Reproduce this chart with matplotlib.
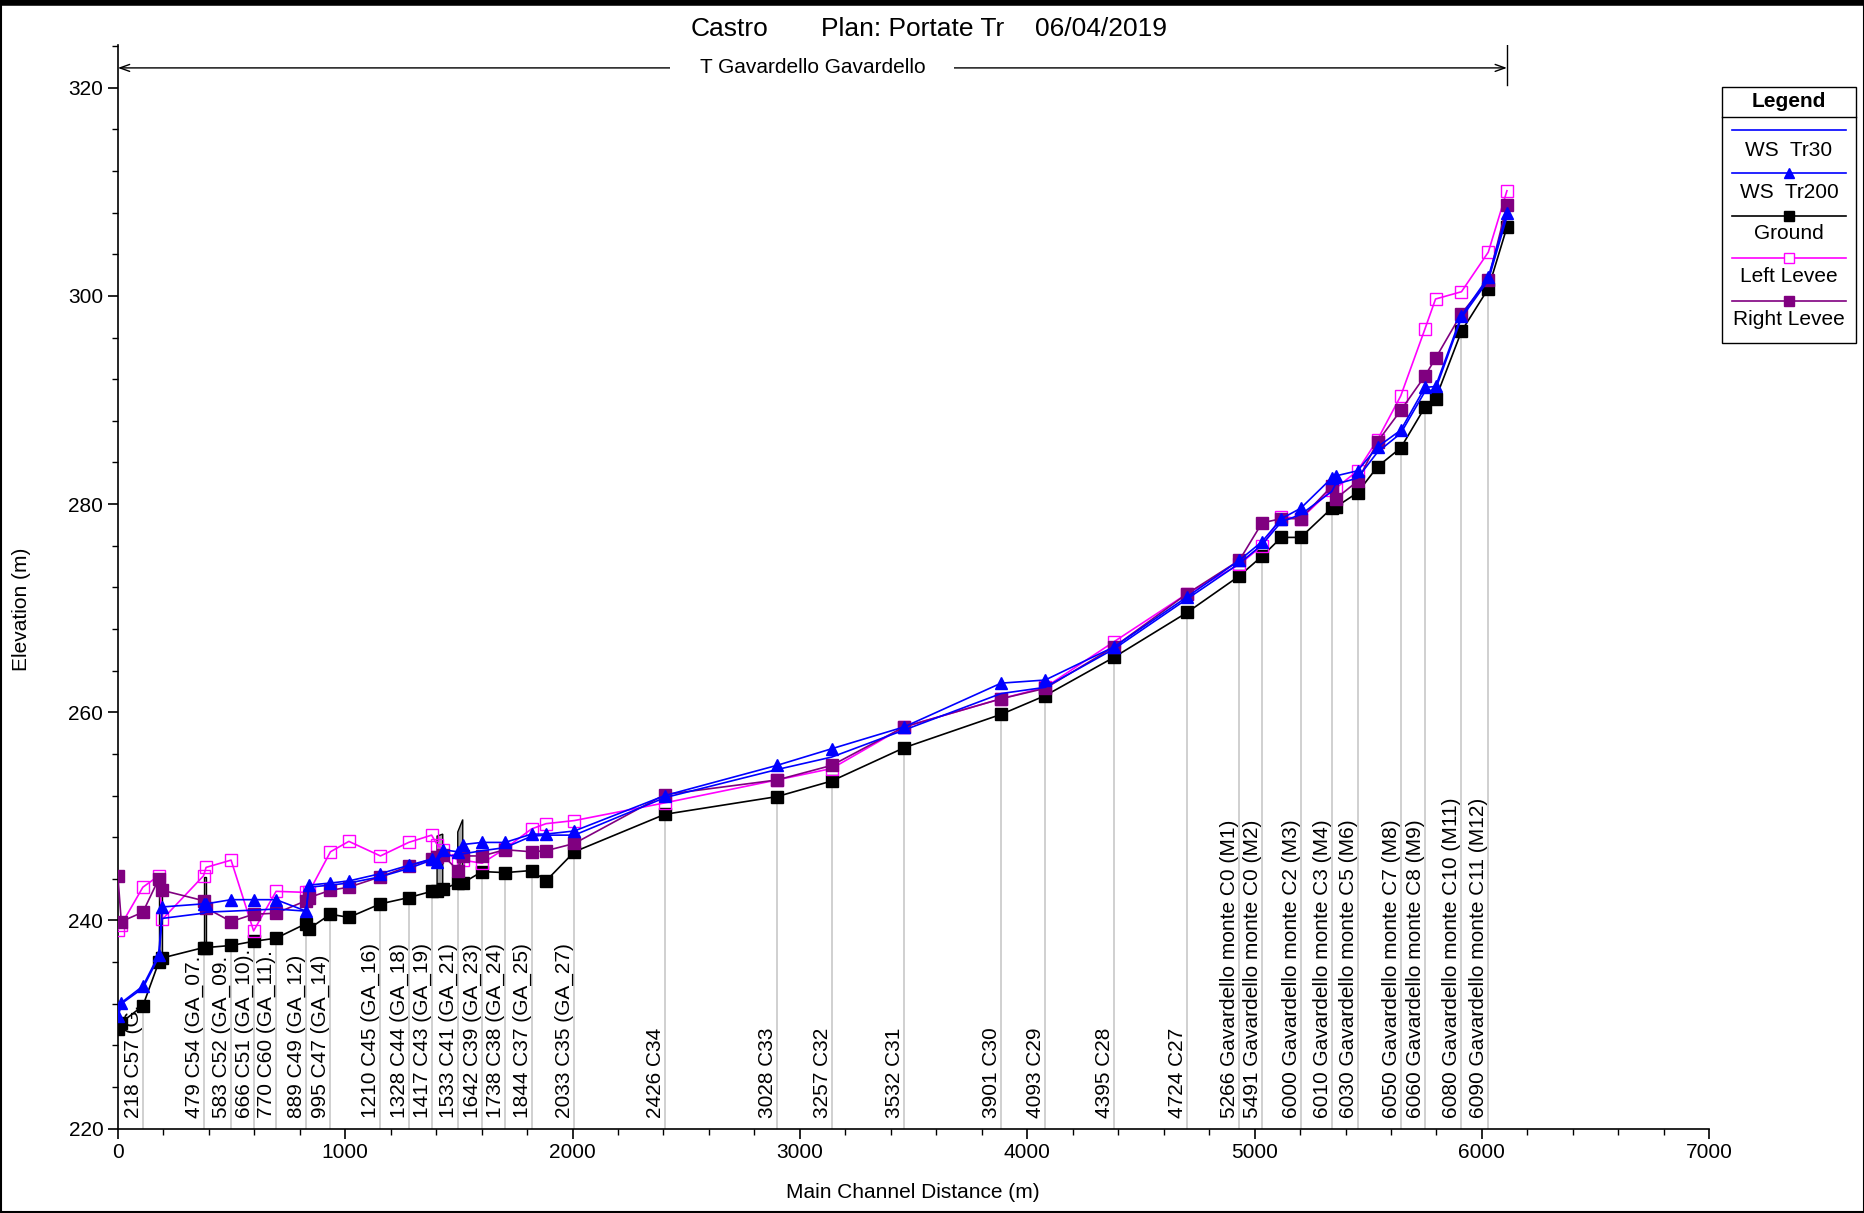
import numpy as np
import matplotlib
matplotlib.use('Agg')
import matplotlib.pyplot as plt
from matplotlib.lines import Line2D
from matplotlib.patches import Rectangle
from matplotlib.ticker import MultipleLocator

plt.rcParams['font.family'] = ['Liberation Sans', 'DejaVu Sans']

# main channel distance (m) of each cross section
dist = [0, 15, 110, 180, 195, 377, 388, 498, 597, 696,
        828, 840, 935, 1016, 1155, 1279, 1380, 1404, 1429, 1495,
        1517, 1602, 1703, 1820, 1883, 2008, 2406, 2899, 3140, 3459,
        3885, 4079, 4383, 4704, 4933, 5033, 5118, 5203, 5339, 5356,
        5453, 5541, 5643, 5749, 5796, 5910, 6028, 6110]

ground = [229.6, 230.2, 231.8, 236.0, 236.4, 237.4, 237.4, 237.6, 238.0, 238.3,
          239.7, 239.2, 240.6, 240.3, 241.6, 242.2, 242.8, 242.8, 243.0, 243.6,
          243.6, 244.7, 244.6, 244.8, 243.8, 246.6, 250.2, 251.9, 253.4, 256.6,
          259.8, 261.6, 265.3, 269.6, 273.1, 275.0, 276.8, 276.8, 279.6, 279.7,
          281.1, 283.6, 285.4, 289.3, 290.1, 296.6, 300.7, 306.6]

left_levee = [239.1, 239.6, 243.2, 244.3, 240.1, 244.3, 245.1, 245.8, 239.0, 242.8,
              242.7, 242.7, 246.6, 247.6, 246.2, 247.5, 248.2, 247.3, 246.8, 245.8,
              245.8, 245.5, 246.9, 248.8, 249.3, 249.6, 251.3, 253.5, 254.6, 258.6,
              261.3, 262.4, 266.8, 271.4, 274.2, 276.0, 278.8, 278.6, 281.4, 281.5,
              283.2, 286.2, 290.4, 296.8, 299.7, 300.4, 304.2, 310.1]

right_levee = [244.3, 239.9, 240.8, 244.0, 242.9, 241.9, 241.2, 239.9, 240.6, 240.7,
               241.9, 242.2, 242.9, 243.2, 244.2, 245.2, 245.9, 246.1, 246.3, 244.8,
               246.2, 246.2, 246.8, 246.6, 246.7, 247.4, 252.1, 253.5, 254.9, 258.6,
               261.3, 262.3, 266.3, 271.4, 274.6, 278.2, 278.6, 278.6, 281.7, 280.5,
               282.2, 286.0, 289.0, 292.3, 294.0, 298.3, 301.5, 308.7]

ws_tr200 = [230.8, 232.1, 233.7, 236.7, 241.3, 241.6, 241.6, 242.0, 242.0, 242.0,
            240.9, 243.4, 243.6, 243.8, 244.5, 245.3, 245.9, 245.6, 246.8, 246.6,
            247.3, 247.5, 247.5, 248.3, 248.3, 248.6, 252.0, 254.9, 256.5, 258.6,
            262.8, 263.1, 266.3, 271.1, 274.6, 276.4, 278.6, 279.6, 282.5, 282.7,
            283.2, 285.5, 287.1, 291.2, 291.3, 298.1, 301.8, 308.0]

ws_tr30 = [230.6, 232.0, 233.5, 236.5, 240.2, 240.7, 240.8, 240.9, 241.0, 241.1,
           240.9, 243.2, 243.4, 243.6, 244.2, 245.0, 245.8, 245.8, 246.3, 246.2,
           246.4, 246.7, 247.0, 248.1, 248.2, 248.2, 251.8, 254.5, 255.7, 258.3,
           261.8, 262.4, 266.1, 270.9, 274.3, 276.1, 278.3, 279.0, 281.2, 281.9,
           282.5, 285.0, 286.8, 290.8, 291.0, 297.9, 301.5, 307.6]

# labelled sections
label_dist = [110, 377, 498, 597, 696, 828, 935, 1155, 1279, 1380, 1495, 1602,
              1703, 1820, 2008, 2406, 2899, 3140, 3459, 3885, 4079, 4383, 4704,
              4933, 5033, 5203, 5339, 5453, 5643, 5749, 5910, 6028]
label_text = ['218 C57 (G.', '479 C54 (GA_07.', '583 C52 (GA_09.', '666 C51 (GA_10).',
              '770 C60 (GA_11).', '889 C49 (GA_12)', '995 C47 (GA_14)', '1210 C45 (GA_16)',
              '1328 C44 (GA_18)', '1417 C43 (GA_19)', '1533 C41 (GA_21)', '1642 C39 (GA_23)',
              '1738 C38 (GA_24)', '1844 C37 (GA_25)', '2033 C35 (GA_27)', '2426 C34',
              '3028 C33', '3257 C32', '3532 C31', '3901 C30', '4093 C29', '4395 C28',
              '4724 C27',
              '5266 Gavardello monte C0 (M1)', '5491 Gavardello monte C0 (M2)',
              '6000 Gavardello monte C2 (M3)', '6010 Gavardello monte C3 (M4)',
              '6030 Gavardello monte C5 (M6)', '6050 Gavardello monte C7 (M8)',
              '6060 Gavardello monte C8 (M9)', '6080 Gavardello monte C10 (M11)',
              '6090 Gavardello monte C11 (M12)']

# bridges / culverts (deck top elevation at start and end)
bridge_x0 = [180, 377, 1404, 1495]
bridge_x1 = [195, 388, 1429, 1517]
bridge_top0 = [244.4, 244.2, 248.1, 248.5]
bridge_top1 = [244.4, 244.2, 248.3, 249.7]

reach_name = 'T Gavardello Gavardello'

fig = plt.figure(figsize=(18.65, 12.13), dpi=100)
ax = fig.add_axes([0.0632, 0.0695, 0.8533, 0.8934])

# station lines
ax.vlines(label_dist, 220, np.interp(label_dist, dist, ground), color='#c8c8c8', lw=1.2, zorder=1)
for x, t in zip(label_dist, label_text):
    ax.text(x, 221.0, t, rotation=90, ha='right', va='bottom', fontsize=15, zorder=2)

# bridges
for x0, x1, t0, t1 in zip(bridge_x0, bridge_x1, bridge_top0, bridge_top1):
    g0, g1 = np.interp([x0, x1], dist, ground)
    ax.fill([x0, x0, x1, x1], [g0, t0, t1, g1], facecolor='#a8a8a8', edgecolor='black', lw=1.0, zorder=3)

ms = 8
ax.plot(dist, ground, color='black', lw=1.2, marker='s', ms=ms, zorder=4)
ax.plot(dist, left_levee, color='#ff00ff', lw=1.2, marker='s', ms=ms, mfc='none', mew=1.0, zorder=5)
ax.plot(dist, right_levee, color='#800080', lw=1.2, marker='s', ms=ms, zorder=5)
ax.plot(dist, ws_tr30, color='#0000ff', lw=1.2, zorder=6)
ax.plot(dist, ws_tr200, color='#0000ff', lw=1.2, marker='^', ms=ms, zorder=6)

# reach arrow
ymax = 324.1
ya = 321.9
ax.annotate('', xy=(0, ya), xytext=(dist[-1], ya),
            arrowprops=dict(arrowstyle='<->,head_length=0.7,head_width=0.25', lw=1.0,
                            color='black', shrinkA=0, shrinkB=0))
ax.text(dist[-1] / 2, ya, reach_name, ha='center', va='center', fontsize=15,
        bbox=dict(boxstyle='square,pad=1.4', fc='white', ec='none'))
ax.plot([dist[-1], dist[-1]], [320.3, ymax], color='black', lw=1.0)

ax.set_xlim(0, 7000)
ax.set_ylim(220, ymax)
ax.set_xticks(range(0, 7001, 1000))
ax.set_yticks(range(220, 321, 20))
ax.xaxis.set_minor_locator(MultipleLocator(200))
ax.yaxis.set_minor_locator(MultipleLocator(4))
ax.tick_params(which='major', direction='out', length=7, width=1.2, labelsize=15)
ax.tick_params(which='minor', direction='out', length=4, width=1.0)
for s in ['top', 'right']:
    ax.spines[s].set_visible(False)
for s in ['left', 'bottom']:
    ax.spines[s].set_linewidth(1.2)

fig.text(0.4895, 0.0165, 'Main Channel Distance (m)', ha='center', va='center', fontsize=15)
fig.text(0.0113, 0.498, 'Elevation (m)', ha='center', va='center', rotation=90, fontsize=15)

# title
ty = 0.9765
fig.text(0.391, ty, 'Castro', ha='center', va='center', fontsize=19)
fig.text(0.4895, ty, 'Plan: Portate Tr', ha='center', va='center', fontsize=19)
fig.text(0.5905, ty, '06/04/2019', ha='center', va='center', fontsize=19)

# legend box
lx0, lx1, ly0, ly1 = 0.9232, 0.9952, 0.7170, 0.9280
fig.patches.append(Rectangle((lx0, ly0), lx1 - lx0, ly1 - ly0, transform=fig.transFigure,
                             fill=False, ec='black', lw=1.0))
fig.text((lx0 + lx1) / 2, 0.9162, 'Legend', ha='center', va='center', fontsize=15, fontweight='bold')
fig.lines.append(Line2D([lx0, lx1], [0.9038, 0.9038], transform=fig.transFigure, color='black', lw=1.0))
leg_names = ['WS  Tr30', 'WS  Tr200', 'Ground', 'Left Levee', 'Right Levee']
leg_style = [dict(color='#0000ff'), dict(color='#0000ff', marker='^'),
             dict(color='black', marker='s'), dict(color='#ff00ff', marker='s', mfc='white'),
             dict(color='#800080', marker='s')]
leg_line_y = [0.8928, 0.8571, 0.8222, 0.7870, 0.7521]
leg_text_y = [0.8763, 0.8411, 0.8071, 0.7719, 0.7368]
xa, xb = 0.9285, 0.9898
for name, st, yl, yt in zip(leg_names, leg_style, leg_line_y, leg_text_y):
    fig.lines.append(Line2D([xa, (xa + xb) / 2, xb], [yl, yl, yl], transform=fig.transFigure,
                            lw=1.2, ms=7, markevery=[1], **st))
    fig.text((lx0 + lx1) / 2, yt, name, ha='center', va='center', fontsize=15)

# outer frame
fig.patches.append(Rectangle((0.0008, 0.0008), 0.9984, 0.9984, transform=fig.transFigure,
                             fill=False, ec='black', lw=1.5))
fig.lines.append(Line2D([0, 1], [0.9975, 0.9975], transform=fig.transFigure, color='black', lw=4))

fig.savefig('out.png', dpi=100)
